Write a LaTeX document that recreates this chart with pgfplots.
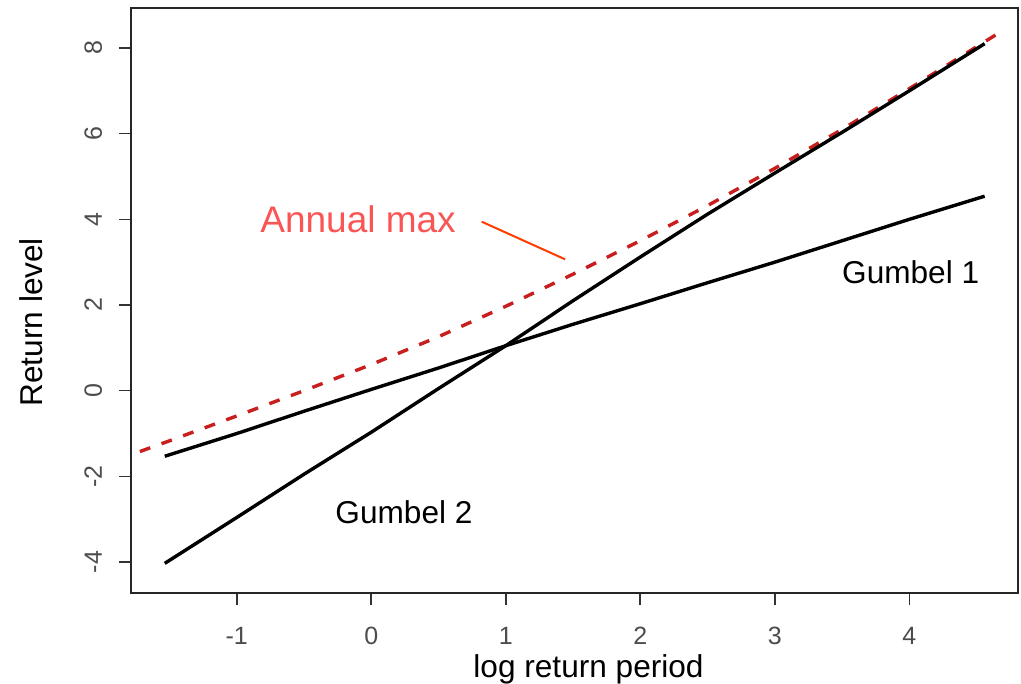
\documentclass[border=0pt]{standalone}
\usepackage{pgfplots}
\pgfplotsset{compat=1.18}
\usepackage{fontspec}
\setmainfont{Liberation Sans}
\definecolor{amred}{RGB}{200,30,30}
\definecolor{amtext}{RGB}{250,85,85}
\definecolor{ptr}{RGB}{255,60,0}
\begin{document}
\begin{tikzpicture}
\path[use as bounding box] (-65.5bp,-45.5bp) rectangle (445bp,296.5bp);
\begin{axis}[
  at={(0,0)}, anchor=south west,
  scale only axis, width=443.5bp, height=292.5bp,
  xmin=-1.786, xmax=4.808, ymin=-4.722, ymax=8.933,
  axis line style={draw=black!85, line width=1bp},
  tick align=outside, major tick length=6bp,
  xtick pos=bottom, ytick pos=left,
  tick style={black!80, line width=0.8bp},
  xtick={-1,0,1,2,3,4}, xticklabels={-1,0,1,2,3,4},
  ytick={-4,-2,0,2,4,6,8}, yticklabels={-4,-2,0,2,4,6,8},
  tick label style={font=\fontsize{12.5bp}{14bp}\selectfont, text=black!70, inner sep=0pt},
  xticklabel style={anchor=north, yshift=-11bp},
  yticklabel style={rotate=90, anchor=base, yshift=8.5bp},
  clip=false,
]
% Annual max (dashed red)
\addplot[amred, line width=1.7bp, dash pattern=on 5.5bp off 6bp] coordinates {
  (-1.72,-1.42) (-1.5,-1.17) (-1,-0.59) (-0.5,0.00) (0,0.61) (0.5,1.26)
  (1,1.97) (1.5,2.72) (2,3.50) (2.5,4.32) (3,5.19) (3.5,6.10) (4,7.05) (4.66,8.34)
};
% Gumbel 1
\addplot[black, line width=1.7bp] coordinates {
  (-1.535,-1.53) (-1,-1.0) (-0.5,-0.48) (0,0.03) (0.5,0.53) (1,1.05)
  (1.5,1.55) (2,2.03) (2.5,2.52) (3,3.0) (3.5,3.5) (4,4.0) (4.56,4.54)
};
% Gumbel 2
\addplot[black, line width=1.7bp] coordinates {
  (-1.535,-4.03) (-1,-2.96) (-0.5,-1.95) (0,-0.97) (0.5,0.05) (1,1.05)
  (1.5,2.1) (2,3.12) (2.5,4.12) (3,5.08) (3.5,6.03) (4,7.0) (4.56,8.1)
};
\draw[ptr, line width=1bp] (axis cs:0.821,3.945) -- (axis cs:1.441,3.067);
\node[anchor=base west, inner sep=0pt, text=amtext, font=\fontsize{18.5bp}{20bp}\selectfont] at (axis cs:-0.827,3.681) {Annual max};
\node[anchor=base west, inner sep=0pt, font=\fontsize{15.8bp}{18bp}\selectfont] at (axis cs:3.498,2.507) {Gumbel 1};
\node[anchor=base west, inner sep=0pt, font=\fontsize{15.8bp}{18bp}\selectfont] at (axis cs:-0.269,-3.095) {Gumbel 2};
\node[anchor=base west, inner sep=0pt, font=\fontsize{15.8bp}{18bp}\selectfont] at (axis cs:0.757,-6.706) {log return period};
\node[rotate=90, anchor=base west, inner sep=0pt, font=\fontsize{15.8bp}{18bp}\selectfont] at (axis cs:-2.447,-0.380) {Return level};
\end{axis}
\end{tikzpicture}
\end{document}
